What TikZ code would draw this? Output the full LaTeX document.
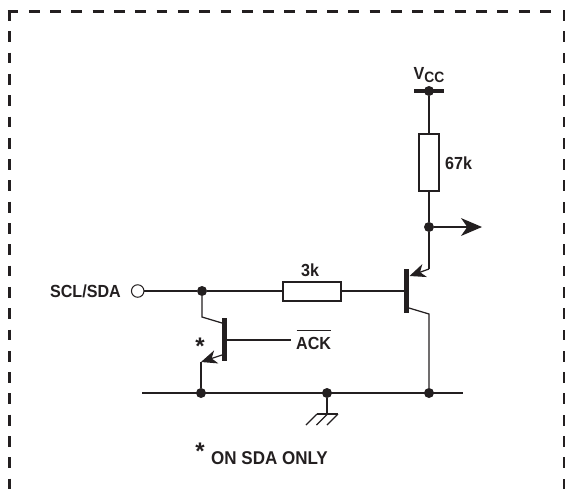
\documentclass[tikz,border=0pt]{standalone}
\usepackage{fontspec}
\setmainfont{Liberation Sans}
\newfontfamily\lblfont{Liberation Sans}[FakeStretch=0.92]
\usepackage{xcolor}
\usetikzlibrary{positioning,arrows.meta}

\definecolor{inkline}{HTML}{231F20}

\tikzset{
    wire/.style={draw=inkline, line width=1.25pt},
    bar/.style={draw=inkline, line width=5pt},
    frameline/.style={draw=inkline, line width=3pt, dash pattern=on 10.8pt off 10.5pt},
    dot/.style={circle, fill=inkline, inner sep=0pt, minimum size=10pt},
    port/.style={circle, draw=inkline, fill=white, line width=1pt, inner sep=0pt, minimum size=12.5pt},
    resistor/.style={rectangle, draw=inkline, fill=white, line width=2pt, inner sep=0pt},
    lbl/.style={font=\lblfont\bfseries\fontsize{17.5}{18}\selectfont, text=inkline, inner sep=0pt},
    star/.style={font=\bfseries\fontsize{24}{24}\selectfont, text=inkline, inner sep=0pt},
    tip/.style={-{Stealth[length=#1, width=#1*0.85, inset=#1*0.3, color=inkline]}},
}

\begin{document}
\begin{tikzpicture}[x=1pt, y=-1pt]

    \useasboundingbox (0,0) rectangle (565,493);

    % dashed frame, open at the bottom
    \coordinate (cornerL) at (9,10);
    \coordinate (cornerT) at (7.5,11);
    \coordinate (cornerR) at (564,10);
    \coordinate (endL) at (9,493);
    \coordinate (endT) at (556,11);
    \coordinate (endR) at (564,493);
    \draw[frameline] (cornerL) -- (endL);
    \draw[frameline] (cornerT) -- (endT);
    \draw[frameline] (cornerR) -- (endR);

    % junctions
    \node[port] (sclsda) at (137.7,291) {};
    \node[dot] (jin) at (202,291) {};
    \node[dot] (jgnda) at (201,393) {};
    \node[dot] (jgndb) at (327,393) {};
    \node[dot] (jgndc) at (429,393) {};
    \node[dot] (jvcc) at (429,91) {};
    \node[dot] (jout) at (429,227) {};

    % resistors
    \node[resistor, minimum width=58pt, minimum height=19pt] (rthree) at (312,291) {};
    \node[resistor, minimum width=20pt, minimum height=57pt] (rsixty) at (429,162.5) {};

    % ends and bends
    \coordinate (gndL) at (142,393);
    \coordinate (gndR) at (463,393);
    \coordinate (vccL) at (414,91);
    \coordinate (vccR) at (444,91);
    \coordinate (outEnd) at (482,227);
    \coordinate (baseT) at (404,291);
    \coordinate (emitT) at (429,269);
    \coordinate (tipT) at (409.5,276);
    \coordinate (collT) at (429,314);
    \coordinate (legT) at (409,308);
    \coordinate (barTa) at (406.5,269);
    \coordinate (barTb) at (406.5,313);
    \coordinate (baseS) at (224,340);
    \coordinate (ackEnd) at (291,340);
    \coordinate (barSa) at (224.5,318);
    \coordinate (barSb) at (224.5,361);
    \coordinate (collS) at (202,317);
    \coordinate (legS) at (222,323);
    \coordinate (emitS) at (222,355);
    \coordinate (tipS) at (201,362);
    \coordinate (hatchT) at (327,414);

    % input line and rails
    \draw[wire] (sclsda) -- (jin) -- (rthree) -- (baseT);
    \draw[wire] (gndL) -- (gndR);
    \draw[bar, line width=4pt] (vccL) -- (vccR);
    \draw[wire] (jvcc) -- (rsixty) -- (jout) -- (emitT);
    \draw[wire, tip=21pt] (jout) -- (outEnd);

    % transistor on the right
    \draw[bar] (barTa) -- (barTb);
    \draw[wire, tip=16pt] (emitT) -- (tipT);
    \draw[wire] (legT) -- (collT) -- (jgndc);

    % transistor on the left
    \draw[bar] (barSa) -- (barSb);
    \draw[wire] (baseS) -- (ackEnd);
    \draw[wire] (jin) -- (collS) -- (legS);
    \draw[wire, tip=16pt] (emitS) -- (tipS);
    \draw[wire] (tipS) -- (jgnda);

    % ground symbol
    \draw[wire] (jgndb) -- (hatchT);
    \coordinate (hatchA) at (317,414);
    \coordinate (hatchB) at (338,414);
    \coordinate (hatchC) at (327.5,414);
    \coordinate (footA) at (306,425);
    \coordinate (footB) at (327,425);
    \coordinate (footC) at (316.5,425);
    \draw[wire] (hatchA) -- (hatchB);
    \draw[wire] (hatchA) -- (footA);
    \draw[wire] (hatchB) -- (footB);
    \draw[wire] (hatchC) -- (footC);

    % labels
    \node[lbl, anchor=east] (lblscl) at (121,291) {SCL/SDA};
    \node[lbl] (lblthree) at (310,270) {3k};
    \node[lbl, anchor=west] (lblsixty) at (445,163) {67k};
    \node[lbl, anchor=base west] (lblack) at (296,349) {ACK};
    \coordinate (ackBarL) at (296.5,330);
    \coordinate (ackBarR) at (331,330);
    \draw[draw=inkline, line width=1pt] (ackBarL) -- (ackBarR);
    \node[lbl, anchor=base west] (lblvcc) at (413.5,79) {V\raisebox{-3.5pt}{\fontsize{15}{16}\selectfont CC}};
    \node[star] (lblstar) at (200,346) {*};
    \node[star] (lblstarb) at (200,451) {*};
    \node[lbl, anchor=west, font=\lblfont\bfseries\fontsize{18.5}{18}\selectfont] (lblnote) at (211,458) {ON SDA ONLY};

\end{tikzpicture}
\end{document}
